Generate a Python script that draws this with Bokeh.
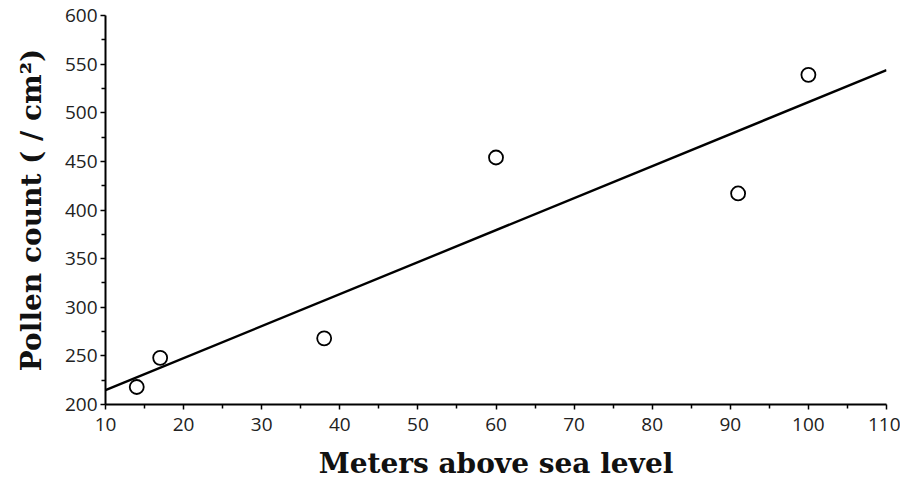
import numpy as np
from bokeh.plotting import figure
from bokeh.models import FixedTicker, Range1d
from bokeh.embed import file_html
from bokeh.resources import INLINE

# Data
altitude = [14, 17, 38, 60, 91, 100]          # meters above sea level
pollen = [218, 248, 268, 454, 417, 539]       # pollen count per cm2
x_ticks = [10, 20, 30, 40, 50, 60, 70, 80, 90, 100, 110]
y_ticks = [200, 250, 300, 350, 400, 450, 500, 550, 600]

# least-squares regression line
slope, intercept = np.polyfit(altitude, pollen, 1)
fit_x = [x_ticks[0], x_ticks[-1]]
fit_y = [intercept + slope * v for v in fit_x]

p = figure(width=900, height=486, output_backend="svg", toolbar_location=None,
           x_range=Range1d(10, 110), y_range=Range1d(200, 600),
           min_border_left=105, min_border_right=14, min_border_top=15,
           min_border_bottom=82)
p.outline_line_color = None
p.xgrid.visible = False
p.ygrid.visible = False
p.background_fill_color = "white"
p.border_fill_color = "white"

p.line(fit_x, fit_y, line_color="black", line_width=2.4)
p.scatter(altitude, pollen, marker="circle", size=14, fill_color=None,
          line_color="black", line_width=1.8)

p.xaxis.ticker = FixedTicker(ticks=x_ticks, minor_ticks=list(range(15, 110, 10)))
p.yaxis.ticker = FixedTicker(ticks=y_ticks, minor_ticks=list(range(225, 600, 50)))

for ax in (p.xaxis, p.yaxis):
    ax.axis_line_color = "black"
    ax.axis_line_width = 2
    ax.major_tick_line_color = "black"
    ax.major_tick_line_width = 1.5
    ax.minor_tick_line_color = "black"
    ax.minor_tick_line_width = 1.5
    ax.major_tick_out = 5
    ax.major_tick_in = 0
    ax.minor_tick_out = 4
    ax.minor_tick_in = 0
    ax.major_label_text_font = "Open Sans"
    ax.major_label_text_font_size = "19px"
    ax.major_label_text_color = "#222222"
    ax.axis_label_text_font = "DejaVu Serif"
    ax.axis_label_text_font_style = "bold"
    ax.axis_label_text_font_size = "28px"
    ax.axis_label_text_color = "#111111"

p.xaxis.axis_label = "Meters above sea level"
p.yaxis.axis_label = "Pollen count ( / cm²)"
p.xaxis.major_label_standoff = 8
p.yaxis.major_label_standoff = 3
p.xaxis.axis_label_standoff = 13
p.yaxis.axis_label_standoff = 14

open("out.html", "w").write(file_html(p, INLINE))
